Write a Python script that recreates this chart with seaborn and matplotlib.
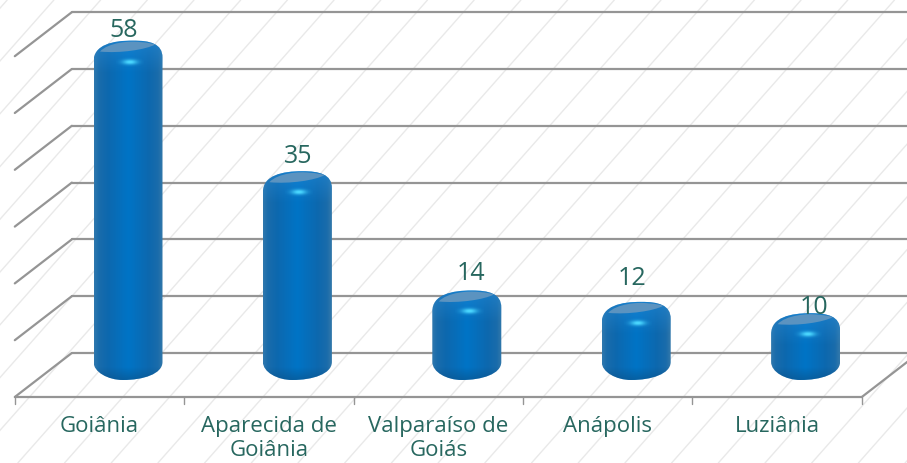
import numpy as np
import pandas as pd
import matplotlib
matplotlib.use("Agg")
import matplotlib.pyplot as plt
import seaborn as sns
from matplotlib.path import Path
from matplotlib.patches import PathPatch
from matplotlib.colors import LinearSegmentedColormap

cities = ["Goiânia", "Aparecida de\nGoiânia", "Valparaíso de\nGoiás", "Anápolis", "Luziânia"]
counts = [58, 35, 14, 12, 10]
grid_values = [0, 10, 20, 30, 40, 50, 60]

# where the value labels sit relative to the bar top, in px
label_dx = [-4, 1, 4, -4, 8]
label_dy = [9, 13, 15, 22, 4]

W, H = 907, 463
sns.set_theme(style="white")
plt.rcParams["font.family"] = ["Open Sans", "DejaVu Sans"]
text_c = "#27675f"
grid_c = "#959595"

# one category = 169.4 px, one unit = 5.68 px, category 0 / value 0 sit on the mid depth plane
PX_X = 169.4
PX_Y = 5.68
fig = plt.figure(figsize=(W / 100, H / 100), dpi=100)
ax = fig.add_axes([0, 0, 1, 1])

df = pd.DataFrame({"city": cities, "n": counts})
sns.barplot(data=df, x="city", y="n", width=69 / PX_X, color="#0070c0", ax=ax)
ax.axis("off")

# background hatch in axes fraction
for x12 in np.arange(557 - 46.7 * 14, W + 500, 46.7):
    x_top = x12 + 12 / 1.13
    x_bot = x12 - (H - 12) / 1.13
    ax.plot([x_bot / W, x_top / W], [0, 1], transform=ax.transAxes, color="#e9e9e9", lw=1, zorder=0)

# chart depth
dx = 28.5 / PX_X
dy = 22 / PX_Y
left = -0.5
right = len(cities) - 0.5
for v in grid_values:
    ax.plot([left + dx, right + dx], [v + dy, v + dy], color=grid_c, lw=1.6, zorder=1)
    ax.plot([left - dx, left + dx], [v - dy, v + dy], color=grid_c, lw=1.6, zorder=1)
ax.plot([left - dx, right - dx], [-dy, -dy], color=grid_c, lw=1.6, zorder=1)
ax.plot([right - dx, right + dx], [-dy, dy], color=grid_c, lw=1.6, zorder=1)
for i in range(len(cities) + 1):
    ax.plot([left - dx + i] * 2, [-dy, -dy - 7 / PX_Y], color=grid_c, lw=1, zorder=1)

body_cmap = LinearSegmentedColormap.from_list(
    "body", [(0, "#2f78ae"), (0.07, "#1a6cab"), (0.2, "#0d68ae"), (0.5, "#0074c6"), (0.8, "#0d68ae"), (0.93, "#1a6cab"), (1, "#3479aa")])
shade = np.linspace(0, 1, 256)[None, :]

# soft glint
gx, gy = np.meshgrid(np.linspace(-1, 1, 60), np.linspace(-1, 1, 24))
glint = np.zeros((24, 60, 4))
glint[..., 0] = 0.3
glint[..., 1] = 0.85
glint[..., 2] = 1
glint[..., 3] = np.clip(1.05 * np.exp(-(gx ** 2 + gy ** 2) * 3.5), 0, 1)


def bar_paths(cx, v):
    # offsets are px: x right of the bar centre, y below the bar top (or the floor)
    def top(ox, oy):
        return (cx + ox / PX_X, v - oy / PX_Y)

    def floor(ox, py):
        return (cx + ox / PX_X, (375 - py) / PX_Y)

    hw = 34.5
    outline = [
        floor(-hw, 362),
        floor(-hw, 372), floor(-20, 380), floor(-5, 380),
        floor(15, 380), floor(hw, 374), floor(hw, 362),
        top(hw, 12),
        top(hw, -2), top(22, -5), top(5, -5),
        top(-15, -5), top(-hw, -1), top(-hw, 16),
        floor(-hw, 362),
    ]
    codes = [Path.MOVETO, Path.CURVE4, Path.CURVE4, Path.CURVE4, Path.CURVE4, Path.CURVE4, Path.CURVE4,
             Path.LINETO, Path.CURVE4, Path.CURVE4, Path.CURVE4, Path.CURVE4, Path.CURVE4, Path.CURVE4, Path.CLOSEPOLY]
    lid = [
        top(-28, 6),
        top(-20, -3), top(2, -5), top(12, -3.5),
        top(20, -3), top(25, -2), top(27, -1),
        top(18, 4), top(-8, 8), top(-28, 6),
        top(-28, 6),
    ]
    lid_codes = [Path.MOVETO] + [Path.CURVE4] * 9 + [Path.CLOSEPOLY]
    return Path(outline, codes), Path(lid, lid_codes)


for i, (bar, v) in enumerate(zip(ax.patches, counts)):
    hw = bar.get_width() / 2
    cx = bar.get_x() + hw
    bar.set_visible(False)
    outline_path, lid_path = bar_paths(cx, v)
    outline = PathPatch(outline_path, facecolor="none", edgecolor="none", zorder=3)
    ax.add_patch(outline)
    im = ax.imshow(shade, cmap=body_cmap, aspect="auto", zorder=3,
                   extent=[cx - hw, cx + hw, -6 / PX_Y, v + 6 / PX_Y])
    im.set_clip_path(outline)

    # lighter shoulder at the top, darker rim at the bottom
    n = 32
    light = np.ones((n, 1, 4)) * np.array([0.15, 0.55, 0.85, 1.0])
    light[..., 3] = np.linspace(0.55, 0, n)[:, None]
    im = ax.imshow(light, aspect="auto", zorder=3.1, extent=[cx - hw, cx + hw, v - 28 / PX_Y, v + 5 / PX_Y])
    im.set_clip_path(outline)
    dark = np.ones((n, 1, 4)) * np.array([0.05, 0.3, 0.5, 1.0])
    dark[..., 3] = np.linspace(0, 0.5, n)[:, None]
    im = ax.imshow(dark, aspect="auto", zorder=3.1, extent=[cx - hw, cx + hw, -5 / PX_Y, 8 / PX_Y])
    im.set_clip_path(outline)

    ax.add_patch(PathPatch(lid_path, facecolor="#5b93c0", edgecolor="none", zorder=4))
    ax.imshow(glint, aspect="auto", zorder=4,
              extent=[cx - 12 / PX_X, cx + 16 / PX_X, v - 21 / PX_Y, v - 11 / PX_Y])
    ax.text(cx + label_dx[i] / PX_X, v + label_dy[i] / PX_Y, str(v), ha="center", va="baseline",
            fontsize=18, color=text_c, zorder=5)

ax.set_xlim(-128 / PX_X, (W - 128) / PX_X)
ax.set_ylim((375 - H) / PX_Y, 375 / PX_Y)

for i, name in enumerate(cities):
    ax.text(i - dx, -dy - 19 / PX_Y, name, ha="center", va="top", fontsize=16, color=text_c, linespacing=1.17, zorder=5)

fig.savefig("out.png", dpi=100)
